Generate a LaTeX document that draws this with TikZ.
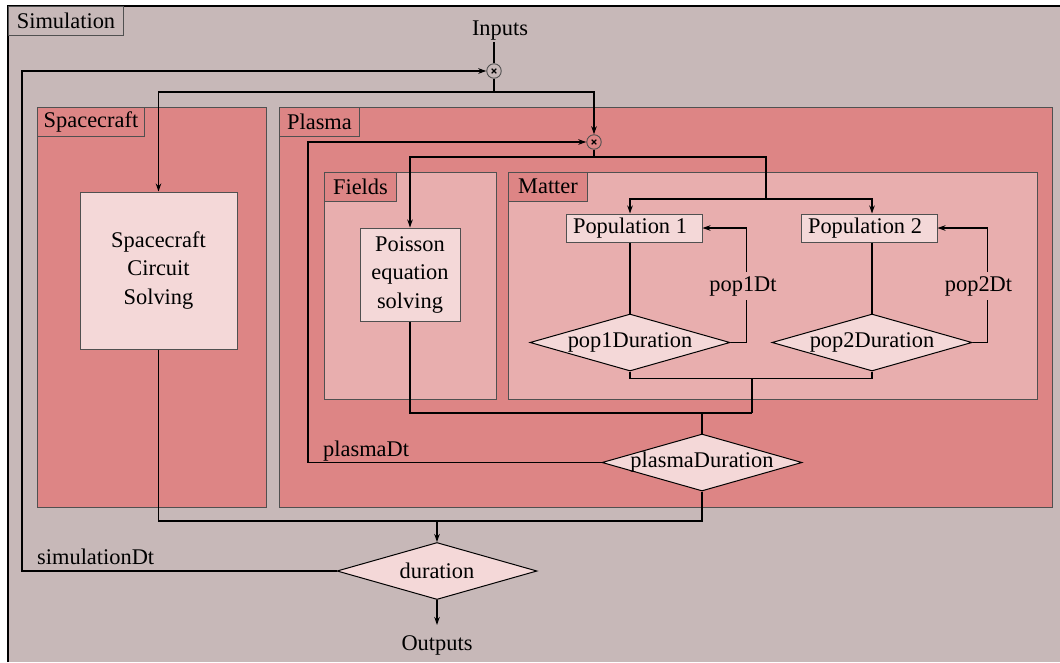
\documentclass[tikz,border=0pt]{standalone}
\usepackage{fontspec}
\setmainfont{LiberationSerif}[Extension=.ttf,UprightFont=*-Regular,BoldFont=*-Bold,ItalicFont=*-Italic,BoldItalicFont=*-BoldItalic]
\usetikzlibrary{shapes.geometric,arrows.meta}
\definecolor{simbg}{HTML}{C7B8B8}
\definecolor{grpbg}{HTML}{DD8585}
\definecolor{subbg}{HTML}{E8AEAE}
\definecolor{boxbg}{HTML}{F4D8D8}
\definecolor{edgegray}{HTML}{505050}

\begin{document}
\begin{tikzpicture}[x=1pt,y=-1pt,
  every node/.style={font=\rmfamily\fontsize{22.4}{28.5}\selectfont},
  group/.style={draw=edgegray,line width=1pt},
  tag/.style={draw=edgegray,line width=1pt,anchor=north west,inner sep=0pt,
    minimum width=#1,minimum height=28.5pt},
  block/.style={draw=edgegray,line width=1pt,fill=boxbg,align=center,inner sep=0pt},
  decision/.style={draw=black,line width=1pt,fill=boxbg,diamond,inner sep=0pt,
    minimum width=200pt,minimum height=57pt},
  mult/.style={circle,draw=edgegray,line width=0.9pt,minimum size=14.5pt,inner sep=0pt,
    path picture={
      \draw[black,line width=1.2pt] (path picture bounding box.center) ++(-2.3,-2.3) -- ++(4.6,4.6);
      \draw[black,line width=1.2pt] (path picture bounding box.center) ++(-2.3,2.3) -- ++(4.6,-4.6);}},
  wire/.style={draw=black,line width=1.2pt},
  arr/.style={wire,-{Stealth[length=8pt,width=5.5pt,inset=2.5pt]}},
  steplabel/.style={fill=subbg,inner xsep=1pt,inner ysep=4.5pt},
  looplabel/.style={anchor=base west,inner sep=0pt}
]
\useasboundingbox (0,0) rectangle (1060,662);

% outer simulation area
\fill[simbg] (8,6) rectangle (1060,662);
\draw[black,line width=1.2pt] (8,662) -- (8,6) -- (1060,6);
\node[tag=115pt,fill=simbg] (simtag) at (8,6) {Simulation};

% groups
\fill[grpbg,group] (37,107) rectangle (266,507);
\node[tag=107pt,fill=grpbg] (sctag) at (37,107) {Spacecraft};
\fill[grpbg,group] (279,107) rectangle (1052,507);
\node[tag=80pt,fill=grpbg] (pltag) at (279,107) {Plasma};
\fill[subbg,group] (324,172) rectangle (496,399);
\node[tag=72pt,fill=grpbg] (fitag) at (324,172) {Fields};
\fill[subbg,group] (508,172) rectangle (1037,399);
\node[tag=79pt,fill=grpbg] (matag) at (508,172) {Matter};

% blocks
\node[block,minimum width=157pt,minimum height=157pt] (sc) at (158.5,270.5) {Spacecraft\\Circuit\\Solving};
\node[block,minimum width=100pt,minimum height=93pt] (poisson) at (410,274.5) {Poisson\\equation\\solving};
\node[block,minimum width=136pt,minimum height=28pt] (pop1) at (634,228) {Population 1\hspace{8pt}};
\node[block,minimum width=136pt,minimum height=28pt] (pop2) at (869,228) {Population 2\hspace{8pt}};

% decisions
\node[decision] (d1) at (630,342.5) {\makebox[0pt]{pop1Duration}};
\node[decision] (d2) at (872,342.5) {\makebox[0pt]{pop2Duration}};
\node[decision] (pdur) at (702,462.5) {\makebox[0pt]{plasmaDuration}};
\node[decision] (dur) at (437,571) {\makebox[0pt]{duration}};

% multiplexers
\node[mult] (c1) at (494,71) {};
\node[mult] (c2) at (594,142) {};

% inputs / outputs
\node[anchor=base,inner sep=2pt] (inputs) at (500,35) {Inputs};
\node[anchor=base,inner sep=0pt] (outputs) at (437,650) {Outputs};

% junctions
\coordinate (j1) at (494,92);
\coordinate (j2) at (594,157);
\coordinate (j3) at (766,199);
\coordinate (j5) at (752,378);
\coordinate (j4) at (752,413);
\coordinate (j6) at (437,521);
\coordinate (ploop) at (308,300);
\coordinate (sloop) at (22,300);

% inputs into the simulation
\draw[wire] (c1.north |- inputs.south) -- (c1.north);
\draw[wire] (c1.south) -- (j1);
\draw[arr] (j1) -| (sc.north);
\draw[arr] (j1) -| (c2.north);

% plasma distribution
\draw[wire] (c2.south) -- (j2);
\draw[arr] (j2) -| (poisson.north);
\draw[wire] (j2) -| (j3);
\draw[arr] (j3) -| (d1.north |- pop1.north);
\draw[arr] (j3) -| (d2.north |- pop2.north);

% populations
\draw[wire] (d1.north |- pop1.south) -- (d1.north);
\draw[wire] (d2.north |- pop2.south) -- (d2.north);
\draw[arr] (d1.east) -- ++(16,0) |- (pop1.east);
\draw[arr] (d2.east) -- ++(15,0) |- (pop2.east);
\node[steplabel] (l1) at (743,286) {pop1Dt};
\node[steplabel] (l2) at (978.5,286) {pop2Dt};

% plasma merge
\draw[wire] (d1.south) -- ++(0,7) -| (d2.south);
\draw[wire] (j5) -- (j4);
\draw[wire] (poisson.south) |- (j4);
\draw[wire] (pdur.north |- j4) -- (pdur.north);
\draw[arr] (pdur.west) -| (ploop) |- (c2.west);
\node[looplabel] (pdt) at (323,456) {plasmaDt};

% simulation merge
\draw[wire] (sc.south) |- (j6);
\draw[wire] (pdur.south) |- (j6);
\draw[arr] (j6) -- (dur.north);
\draw[arr,shorten >=10pt] (dur.south) -- (outputs.north);
\draw[arr] (dur.west) -| (sloop) |- (c1.west);
\node[looplabel] (sdt) at (37,564) {simulationDt};
\end{tikzpicture}
\end{document}
